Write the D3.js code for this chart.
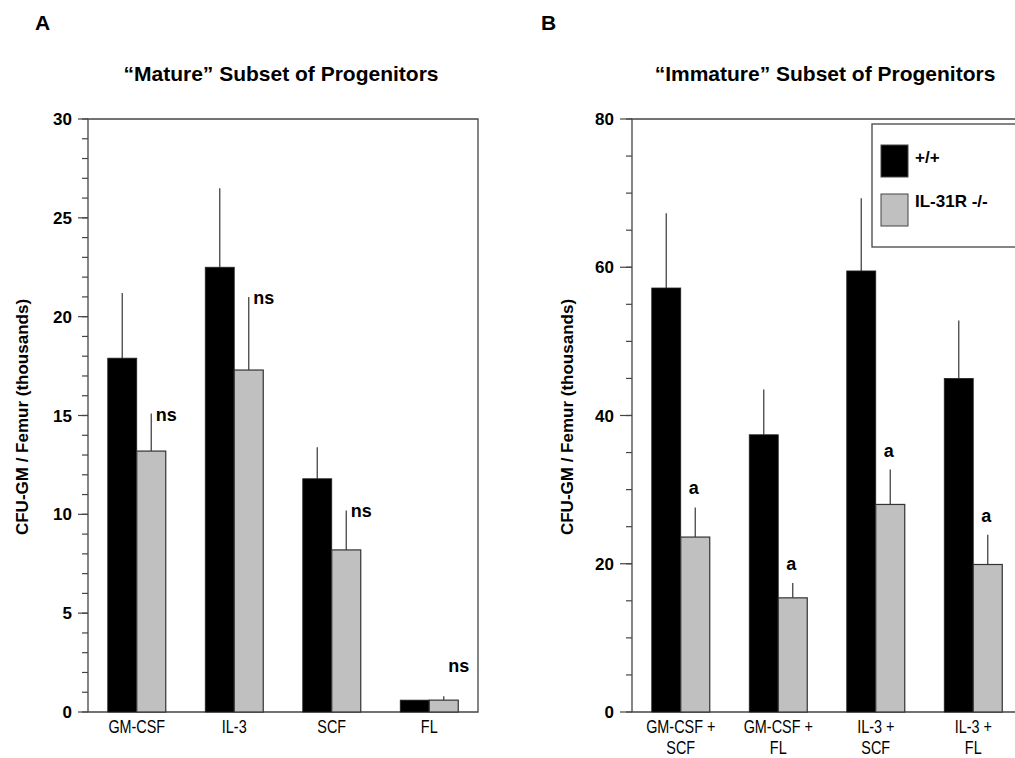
<!DOCTYPE html>
<html>
<head>
<meta charset="utf-8">
<script src="https://d3js.org/d3.v7.min.js"></script>
<style>
  body { margin: 0; background: #fff; }
  text { font-family: "Liberation Sans", Arial, sans-serif; fill: #000; }
</style>
</head>
<body>
<script>
// panel A: "mature" progenitors
var matureCats = [["GM-CSF"], ["IL-3"], ["SCF"], ["FL"]];
var matureWT = [17.9, 22.5, 11.8, 0.6];
var matureWTErr = [21.2, 26.5, 13.4, 0.6];
var matureKO = [13.2, 17.3, 8.2, 0.6];
var matureKOErr = [15.1, 21.0, 10.2, 0.8];
var matureMarks = ["ns", "ns", "ns", "ns"];
var matureTicks = [0, 5, 10, 15, 20, 25, 30];

// panel B: "immature" progenitors
var immatureCats = [["GM-CSF +", "SCF"], ["GM-CSF +", "FL"], ["IL-3 +", "SCF"], ["IL-3 +", "FL"]];
var immatureWT = [57.2, 37.4, 59.5, 45.0];
var immatureWTErr = [67.3, 43.5, 69.3, 52.8];
var immatureKO = [23.6, 15.4, 28.0, 19.9];
var immatureKOErr = [27.6, 17.4, 32.7, 23.9];
var immatureMarks = ["a", "a", "a", "a"];
var immatureTicks = [0, 20, 40, 60, 80];

var seriesNames = ["+/+", "IL-31R -/-"];
var seriesColors = ["#000000", "#c0c0c0"];

var width = 1015, height = 758;
var svg = d3.select("body").append("svg")
  .attr("width", width).attr("height", height);

var axisColor = "#444";

function panel(opt) {
  var g = svg.append("g");
  var x = d3.scaleBand().domain(d3.range(opt.cats.length))
    .range([opt.left, opt.left + 390]);
  var y = d3.scaleLinear().domain([0, opt.max]).range([712, 119]);
  var barW = 29;

  // minor ticks
  var minor = d3.range(0, opt.max + 0.001, opt.minorStep);
  g.selectAll(".minor").data(minor).enter().append("line")
    .attr("x1", opt.left - 6).attr("x2", opt.left)
    .attr("y1", function(d) { return y(d); }).attr("y2", function(d) { return y(d); })
    .attr("stroke", axisColor).attr("stroke-width", 1.2);

  // major ticks and labels
  g.selectAll(".major").data(opt.ticks).enter().append("line")
    .attr("x1", opt.left - opt.majorLen).attr("x2", opt.left)
    .attr("y1", function(d) { return y(d); }).attr("y2", function(d) { return y(d); })
    .attr("stroke", axisColor).attr("stroke-width", 1.2);
  g.selectAll(".tl").data(opt.ticks).enter().append("text")
    .attr("x", opt.left - opt.majorLen - 6).attr("y", function(d) { return y(d) + 6; })
    .attr("text-anchor", "end").attr("font-size", 17).attr("font-weight", "bold")
    .text(function(d) { return d; });

  // frame
  g.append("path")
    .attr("d", "M" + opt.left + "," + y(0) + "V" + y(opt.max) + "H" + (opt.left + 390) +
      "V" + y(0) + "H" + opt.left)
    .attr("fill", "none").attr("stroke", axisColor).attr("stroke-width", 1.3);

  var idx = d3.range(opt.cats.length);
  function cx(i) { return x(i) + x.bandwidth() / 2; }

  // error bars (upper only)
  g.selectAll(".ew").data(idx).enter().append("line")
    .attr("x1", function(i) { return cx(i) - barW / 2; })
    .attr("x2", function(i) { return cx(i) - barW / 2; })
    .attr("y1", function(i) { return y(opt.wt[i]); })
    .attr("y2", function(i) { return y(opt.wtErr[i]); })
    .attr("stroke", "#444").attr("stroke-width", 1.3);
  g.selectAll(".ek").data(idx).enter().append("line")
    .attr("x1", function(i) { return cx(i) + barW / 2; })
    .attr("x2", function(i) { return cx(i) + barW / 2; })
    .attr("y1", function(i) { return y(opt.ko[i]); })
    .attr("y2", function(i) { return y(opt.koErr[i]); })
    .attr("stroke", "#444").attr("stroke-width", 1.3);

  // bars
  g.selectAll(".bw").data(idx).enter().append("rect")
    .attr("x", function(i) { return cx(i) - barW; })
    .attr("y", function(i) { return y(opt.wt[i]); })
    .attr("width", barW)
    .attr("height", function(i) { return y(0) - y(opt.wt[i]); })
    .attr("fill", seriesColors[0]).attr("stroke", "#222").attr("stroke-width", 0.8);
  g.selectAll(".bk").data(idx).enter().append("rect")
    .attr("x", function(i) { return cx(i); })
    .attr("y", function(i) { return y(opt.ko[i]); })
    .attr("width", barW)
    .attr("height", function(i) { return y(0) - y(opt.ko[i]); })
    .attr("fill", seriesColors[1]).attr("stroke", "#333").attr("stroke-width", 1.2);

  // significance marks (kept clear of very short bars)
  g.selectAll(".mk").data(idx).enter().append("text")
    .attr("x", function(i) { return cx(i) + opt.markDx; })
    .attr("y", function(i) { return Math.min(y(opt.koErr[i]) + opt.markDy, y(0) - 40); })
    .attr("text-anchor", opt.markAnchor)
    .attr("font-size", 18).attr("font-weight", "bold")
    .text(function(i) { return opt.marks[i]; });

  // category labels (condensed face)
  g.selectAll(".cl").data(idx).enter().append("text")
    .attr("transform", function(i) { return "translate(" + cx(i) + ",733) scale(0.8,1)"; })
    .attr("text-anchor", "middle").attr("font-size", 18)
    .each(function(i) {
      var t = d3.select(this);
      opt.cats[i].forEach(function(s, k) {
        t.append("tspan").attr("x", 0).attr("y", k * 21).text(s);
      });
    });

  // y axis title
  svg.append("text")
    .attr("transform", "translate(" + opt.titleX + ",417) rotate(-90)")
    .attr("text-anchor", "middle").attr("font-size", 17).attr("font-weight", "bold")
    .text("CFU-GM / Femur (thousands)");

  // panel title and letter
  svg.append("text").attr("x", opt.left + 193).attr("y", 81)
    .attr("text-anchor", "middle").attr("font-size", 21).attr("font-weight", "bold")
    .text(opt.title);
  svg.append("text").attr("x", opt.letterX).attr("y", 30)
    .attr("font-size", 21).attr("font-weight", "bold")
    .text(opt.letter);

  return { x: x, y: y };
}

panel({
  left: 88, max: 30, minorStep: 1, majorLen: 10, ticks: matureTicks,
  cats: matureCats, wt: matureWT, wtErr: matureWTErr, ko: matureKO, koErr: matureKOErr,
  marks: matureMarks, markDx: 19, markDy: 7, markAnchor: "start",
  titleX: 28, title: "\u201CMature\u201D Subset of Progenitors", letter: "A", letterX: 35
});

panel({
  left: 632, max: 80, minorStep: 5, majorLen: 12, ticks: immatureTicks,
  cats: immatureCats, wt: immatureWT, wtErr: immatureWTErr, ko: immatureKO, koErr: immatureKOErr,
  marks: immatureMarks, markDx: 13, markDy: -13, markAnchor: "middle",
  titleX: 573, title: "\u201CImmature\u201D Subset of Progenitors", letter: "B", letterX: 541
});

// legend
var leg = svg.append("g");
leg.append("rect").attr("x", 872).attr("y", 124).attr("width", 160).attr("height", 123)
  .attr("fill", "#fff").attr("stroke", "#444").attr("stroke-width", 1.3);
seriesNames.forEach(function(name, i) {
  leg.append("rect").attr("x", 881).attr("y", 145 + i * 49).attr("width", 27).attr("height", 32)
    .attr("fill", seriesColors[i]).attr("stroke", "#444").attr("stroke-width", 1);
  leg.append("text").attr("x", 915).attr("y", 163 + i * 44)
    .attr("font-size", 17).attr("font-weight", "bold").text(name);
});
</script>
</body>
</html>
